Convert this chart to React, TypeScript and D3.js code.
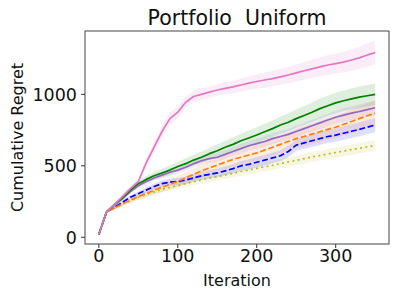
import React from "react";
import * as d3 from "d3";

const iterations = [0,10,20,30,40,50,60,70,80,90,100,110,120,130,140,150,160,170,180,190,200,210,220,230,240,250,260,270,280,290,300,310,320,330,340,350];

const pinkValues = [20,180,230,285,340,390,520,630,740,830,875,945,985,1000,1015,1030,1042,1052,1065,1078,1090,1100,1110,1122,1135,1150,1165,1178,1192,1205,1215,1225,1240,1255,1275,1292];
const pinkBand = [2,8,12,15,18,22,30,35,40,42,42,40,40,40,40,40,42,44,46,48,50,52,54,56,58,60,62,64,66,68,70,72,75,78,82,85];

const greenValues = [20,180,230,275,330,375,405,430,450,470,495,515,540,560,585,605,630,650,675,695,715,738,760,785,805,830,852,875,900,920,940,955,968,980,990,1000];
const greenBand = [2,8,12,15,18,22,25,28,30,32,34,36,38,40,42,44,46,48,50,52,54,56,58,60,62,64,66,68,70,70,72,72,74,74,75,75];

const purpleValues = [20,180,225,270,320,360,390,415,435,455,470,490,515,535,550,560,580,600,620,640,655,670,690,705,720,740,760,780,800,820,840,855,868,880,893,906];
const purpleBand = [2,8,10,12,15,18,20,22,24,25,26,27,28,29,30,31,32,33,34,35,36,37,38,39,40,41,42,43,44,45,46,47,48,49,50,50];

const orangeValues = [20,180,205,235,260,285,305,330,350,370,390,415,440,465,485,505,525,545,560,575,590,610,630,650,670,690,705,722,738,755,770,790,810,830,850,867];
const orangeBand = [2,8,12,15,18,22,26,30,33,36,38,40,42,44,46,48,50,52,54,56,58,60,62,64,66,68,70,72,74,76,78,80,82,84,86,88];

const blueValues = [20,180,210,245,280,305,330,355,375,385,390,400,415,430,440,450,465,480,500,510,525,540,555,570,600,645,660,675,690,705,715,728,742,755,770,785];
const blueBand = [2,8,10,12,14,16,18,20,22,24,26,27,28,29,30,31,32,33,34,35,36,37,38,39,40,41,42,43,44,45,46,47,48,49,50,50];

const yellowValues = [20,180,205,230,255,280,300,318,335,350,362,375,390,402,415,425,437,448,460,470,482,493,503,515,527,538,550,562,572,583,593,603,613,623,632,641];
const yellowBand = [2,8,10,12,14,16,18,19,20,21,22,23,24,25,26,27,28,29,30,30,31,31,32,32,33,33,34,34,35,35,36,36,37,37,38,38];

const xTicks = [0, 100, 200, 300];
const yTicks = [0, 500, 1000];

const titleText = "Portfolio  Uniform";
const xLabel = "Iteration";
const yLabel = "Cumulative Regret";

type Series = { values: number[]; band: number[]; color: string; dash?: string };

const seriesList: Series[] = [
  { values: yellowValues, band: yellowBand, color: "#bcbd22", dash: "2,3.3" },
  { values: blueValues, band: blueBand, color: "#0000ff", dash: "6,2.6" },
  { values: orangeValues, band: orangeBand, color: "#ff7f0e", dash: "6,2.6" },
  { values: purpleValues, band: purpleBand, color: "#9467bd" },
  { values: greenValues, band: greenBand, color: "#008000" },
  { values: pinkValues, band: pinkBand, color: "#e377c2" },
];

export default function App() {
  const W = 399, H = 299;
  const left = 85, right = 389, top = 31, bottom = 244;
  const x = d3.scaleLinear().domain([-17.5, 367.5]).range([left, right]);
  const y = d3.scaleLinear().domain([-47, 1443]).range([bottom, top]);

  const line = d3.line<number>().x((_, i) => x(iterations[i])).y((v) => y(v));
  const area = (s: Series) =>
    d3.area<number>()
      .x((_, i) => x(iterations[i]))
      .y0((v, i) => y(v - s.band[i]))
      .y1((v, i) => y(v + s.band[i]))(s.values) || "";

  const font = "DejaVu Sans, sans-serif";

  return (
    <svg width={W} height={H} style={{ position: "absolute", left: 0, top: 0 }}>
      <rect width={W} height={H} fill="#fff" />
      <defs>
        <clipPath id="plotclip">
          <rect x={left} y={top} width={right - left} height={bottom - top} />
        </clipPath>
      </defs>
      <g clipPath="url(#plotclip)">
        {seriesList.map((s, k) => (
          <path key={"a" + k} d={area(s)} fill={s.color} fillOpacity={0.13} stroke="none" />
        ))}
        {seriesList.map((s, k) => (
          <path key={"l" + k} d={line(s.values) || ""} fill="none" stroke={s.color}
            strokeWidth={1.7} strokeDasharray={s.dash} strokeLinejoin="round" />
        ))}
      </g>
      <rect x={left} y={top} width={right - left} height={bottom - top} fill="none" stroke="#444" strokeWidth={1} />
      {xTicks.map((t) => (
        <g key={"x" + t}>
          <line x1={x(t)} x2={x(t)} y1={bottom} y2={bottom + 4} stroke="#333" />
          <text x={x(t)} y={262} textAnchor="middle" fontFamily={font} fontSize={17.5} fill="#111">{t}</text>
        </g>
      ))}
      {yTicks.map((t) => (
        <g key={"y" + t}>
          <line x1={left - 4} x2={left} y1={y(t)} y2={y(t)} stroke="#333" />
          <text x={77} y={y(t) + 6.3} textAnchor="end" fontFamily={font} fontSize={17.5} fill="#111">{t}</text>
        </g>
      ))}
      <text x={(left + right) / 2} y={286} textAnchor="middle" fontFamily={font} fontSize={16} fill="#111">{xLabel}</text>
      <text transform={`translate(23,${(top + bottom) / 2}) rotate(-90)`} textAnchor="middle" fontFamily={font} fontSize={16} fill="#111">{yLabel}</text>
      <text x={(left + right) / 2} y={25} textAnchor="middle" fontFamily={font} fontSize={20.5} fill="#111" style={{ whiteSpace: "pre" }}>{titleText}</text>
    </svg>
  );
}
